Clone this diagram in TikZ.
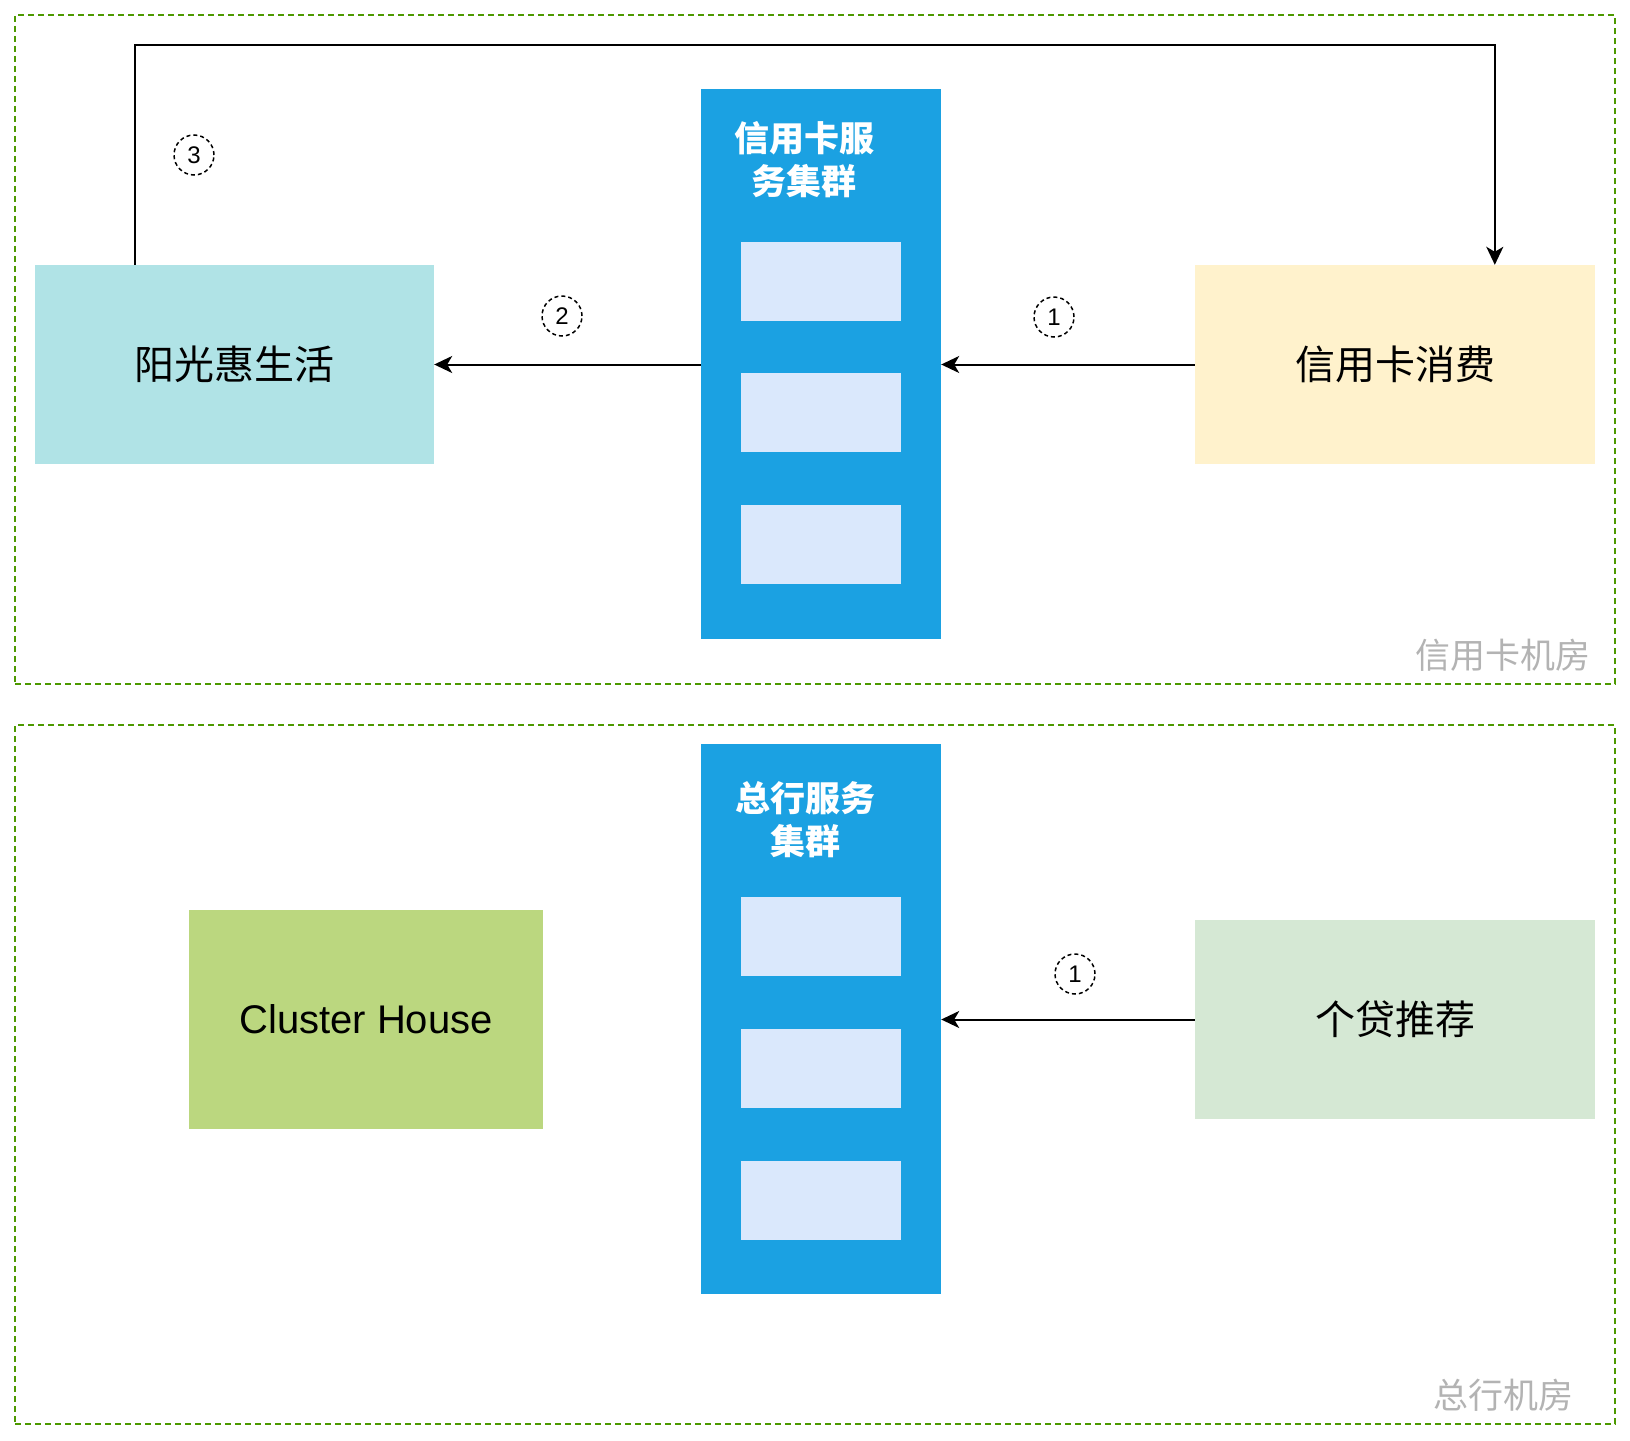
\documentclass[tikz,border=0pt]{standalone}
\usepackage{fontspec}
\setmainfont{Liberation Sans}
\newfontfamily\cjk{Noto Sans CJK SC}
\usetikzlibrary{arrows.meta,calc}
\definecolor{cblue}{HTML}{1BA1E2}
\definecolor{cinner}{HTML}{DAE8FC}
\definecolor{cteal}{HTML}{B0E3E6}
\definecolor{cyellow}{HTML}{FFF2CC}
\definecolor{cgreen}{HTML}{BBD77F}
\definecolor{clight}{HTML}{D5E8D4}
\definecolor{cborder}{HTML}{4D9900}
\definecolor{cgray}{HTML}{B3B3B3}
\tikzset{
  box/.style={draw=none, inner sep=0pt, align=center},
  cluster/.style={box, fill=cblue, minimum width=240pt, minimum height=550pt},
  slot/.style={box, fill=cinner, minimum width=160pt, minimum height=79pt},
  grp/.style={inner sep=0pt, draw=cborder, line width=2pt, dash pattern=on 6pt off 4pt},
  arr/.style={draw=black, line width=2pt, -{Stealth[length=18pt,width=17pt,inset=5pt]}},
  num/.style={circle, draw=black, line width=1.5pt, dash pattern=on 4pt off 3pt, minimum size=40pt, inner sep=0pt, font=\fontsize{24}{28}\selectfont},
  big/.style={font=\cjk\fontsize{40}{48}\selectfont},
  clab/.style={text=white, align=center, font=\cjk\bfseries\fontsize{35}{43}\selectfont},
  roomlab/.style={text=cgray, font=\cjk\fontsize{35}{42}\selectfont}
}
\begin{document}
\begin{tikzpicture}[x=1pt,y=-1pt]
\useasboundingbox (0,0) rectangle (1630,1440);
% groups
\node[grp, minimum width=1600pt, minimum height=669pt] (g1) at (815,349.5) {};
\node[grp, minimum width=1600pt, minimum height=699pt] (g2) at (815,1074.5) {};
\node[roomlab] (r1) at (1503,655) {信用卡机房};
\node[roomlab] (r2) at (1503,1395) {总行机房};
% top section
\node[box, fill=cteal, minimum width=399pt, minimum height=199pt, big] (yg) at (234.5,364.5) {阳光惠生活};
\node[box, fill=cyellow, minimum width=400pt, minimum height=199pt, big] (xf) at (1395,364.5) {信用卡消费};
\node[cluster] (b1) at (821,363.5) {};
\node[clab] (l1) at (804,160) {信用卡服\\务集群};
\node[slot] (s1a) at (821,281) {};
\node[slot] (s1b) at (821,412.5) {};
\node[slot] (s1c) at (821,544.5) {};
% bottom section
\node[cluster] (b2) at (821,1019) {};
\node[clab] (l2) at (805,820) {总行服务\\集群};
\node[slot] (s2a) at (821,936) {};
\node[slot] (s2b) at (821,1068.5) {};
\node[slot] (s2c) at (821,1200.5) {};
\node[box, fill=cgreen, minimum width=354pt, minimum height=219pt, font=\fontsize{40}{48}\selectfont] (ch) at (366,1019.5) {Cluster House};
\node[box, fill=clight, minimum width=400pt, minimum height=199pt, big] (gd) at (1395,1019.5) {个贷推荐};
% connectors
\draw[arr] (xf.west) -- (b1.east |- xf.west);
\draw[arr] (b1.west |- yg.east) -- (yg.east);
\draw[arr] (gd.west) -- (b2.east |- gd.west);
\coordinate (top) at (0,45);
\coordinate (s3) at ([xshift=100pt]yg.north west);
\coordinate (e3) at ([xshift=300pt]xf.north west);
\draw[arr] (s3) -- (s3 |- top) -- (e3 |- top) -- (e3);
% step numbers
\node[num] (n3) at (194,155) {3};
\node[num] (n2) at (562,316) {2};
\node[num] (n1) at (1054,317) {1};
\node[num] (n4) at (1075,974) {1};
\end{tikzpicture}
\end{document}
